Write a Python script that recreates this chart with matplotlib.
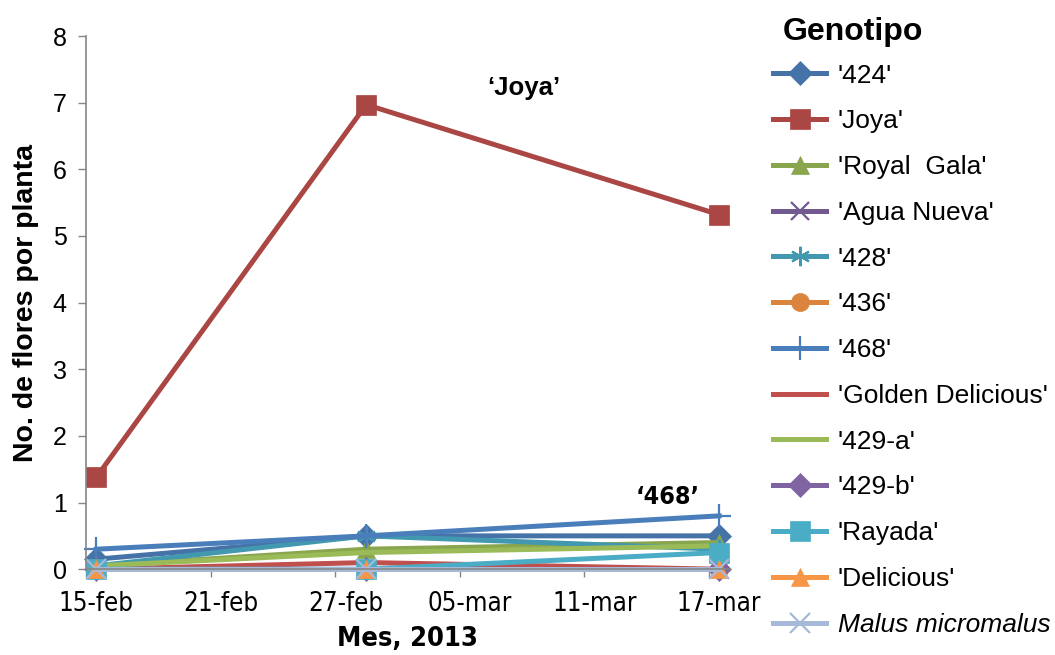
import matplotlib
matplotlib.use('Agg')
import matplotlib.pyplot as plt
import matplotlib.dates as mdates
from datetime import datetime

plt.rcParams['font.family'] = ['Liberation Sans', 'DejaVu Sans']

# fechas de muestreo
fechas = ['2013-02-15', '2013-02-28', '2013-03-17']

# flores por planta, por genotipo
g424 = [0.15, 0.5, 0.5]
joya = [1.38, 6.97, 5.32]
royal_gala = [0.05, 0.3, 0.4]
agua_nueva = [0, 0, 0]
g428 = [0.05, 0.5, 0.3]
g436 = [0, 0, 0]
g468 = [0.3, 0.5, 0.8]
golden = [0, 0.1, 0]
g429a = [0.05, 0.25, 0.35]
g429b = [0, 0, 0]
rayada = [0, 0, 0.25]
delicious = [0, 0, 0]
malus = [0, 0, 0]

etiquetas_x = ['15-feb', '21-feb', '27-feb', '05-mar', '11-mar', '17-mar']

series = [
    ("'424'", g424, '#4572A7', 'D', 12),
    ("'Joya'", joya, '#AA4643', 's', 14),
    ("'Royal  Gala'", royal_gala, '#89A54E', '^', 13),
    ("'Agua Nueva'", agua_nueva, '#71588F', 'x', 13),
    ("'428'", g428, '#4198AF', (6, 2, 0), 14),
    ("'436'", g436, '#DB843D', 'o', 13),
    ("'468'", g468, '#4A7EBB', '+', 17),
    ("'Golden Delicious'", golden, '#C0504D', None, 0),
    ("'429-a'", g429a, '#9BBB59', None, 0),
    ("'429-b'", g429b, '#8064A2', 'D', 12),
    ("'Rayada'", rayada, '#4BACC6', 's', 14),
    ("'Delicious'", delicious, '#F79646', '^', 13),
    ("Malus micromalus", malus, '#A7B9D9', 'x', 14),
]

x = [mdates.date2num(datetime.strptime(f, '%Y-%m-%d')) for f in fechas]

fig = plt.figure(figsize=(10.55, 6.55), dpi=100)
ax = fig.add_axes([0.0815, 0.131, 0.61, 0.814])

for nombre, vals, color, mk, ms in series:
    thin = mk in ('x', '+', (6, 2, 0))
    ax.plot(x, vals, color=color, lw=3.6, marker=mk, markersize=ms,
            markeredgewidth=1.6 if thin else 0.5,
            markeredgecolor=color, label=nombre, clip_on=False)

narrow = dict(family=['DejaVu Sans', 'Liberation Sans'], stretch='condensed')

x0 = mdates.date2num(datetime(2013, 2, 15))
dias_lab = [x0 + 6 * i for i in range(6)]
ax.set_xlim(x0 - 0.5, x0 + 30.5)
ax.set_ylim(0, 8)
ax.set_yticks(range(0, 9))
ax.set_xticks(dias_lab)
ax.set_xticklabels(etiquetas_x, fontsize=18.5, **narrow)
ax.set_xticks([d - 0.5 for d in dias_lab], minor=True)
ax.tick_params(axis='x', which='major', length=0, pad=16)
ax.tick_params(axis='x', which='minor', length=6, color='#868686', width=1)
ax.tick_params(axis='y', length=6, color='#868686', width=1, labelsize=18, pad=8)

for s in ['top', 'right']:
    ax.spines[s].set_visible(False)
for s in ['left', 'bottom']:
    ax.spines[s].set_color('#868686')
    ax.spines[s].set_linewidth(1.2)

ax.set_ylabel('No. de flores por planta', fontsize=20.5, fontweight='bold', labelpad=10)
ax.set_xlabel('Mes, 2013', fontsize=19.5, fontweight='bold', labelpad=6, **narrow)

ax.text(x0 + 20.6, 7.22, '\u2018Joya\u2019', fontsize=18.5, fontweight='bold',
        ha='center', va='center')
ax.text(x0 + 27.5, 1.08, '\u2018468\u2019', fontsize=18, fontweight='bold',
        ha='center', va='center', **narrow)

fig.text(0.742, 0.951, 'Genotipo', fontsize=23, fontweight='bold', va='center')

leg = fig.legend(loc='upper left', bbox_to_anchor=(0.733, 0.903), frameon=False,
                 fontsize=19, handlelength=2.0, handletextpad=0.45,
                 labelspacing=0.825, borderpad=0, borderaxespad=0)
leg.get_texts()[-1].set_style('italic')

fig.savefig('out.png', dpi=100)
